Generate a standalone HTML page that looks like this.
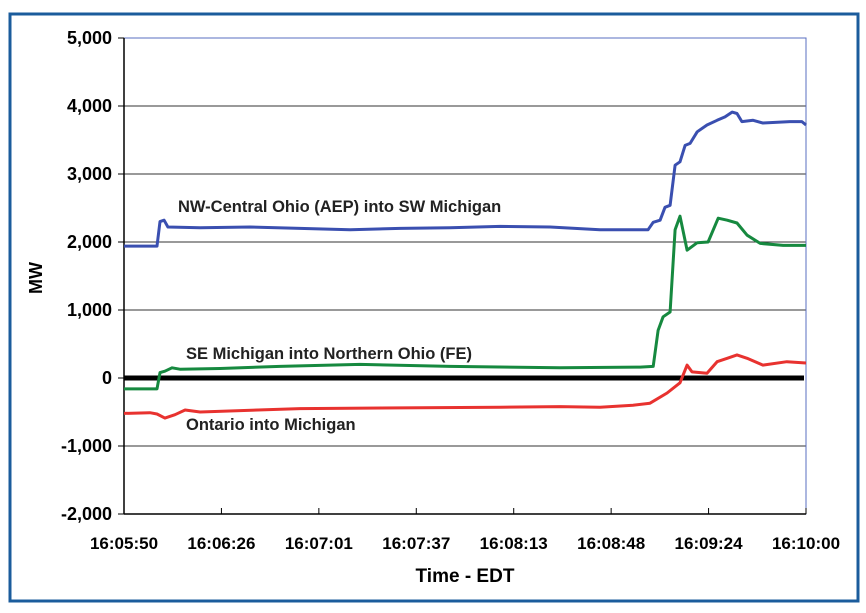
<!DOCTYPE html>
<html><head><meta charset="utf-8"><style>
body{margin:0;background:#fff;}
svg{display:block;font-family:"Liberation Sans",Arial,sans-serif;}
</style></head><body>
<svg width="866" height="613" viewBox="0 0 866 613">
<rect x="10" y="14" width="848" height="587" fill="#fff" stroke="#1b5c9c" stroke-width="3"/>
<g id="grid"></g>
<rect x="124" y="38" width="682" height="476" fill="none" stroke="#5a6fc0" stroke-width="1"/>
<g id="axes"></g>
<g id="series"></g>
<text x="42" y="278" transform="rotate(-90 42 278)" text-anchor="middle" font-weight="bold" font-size="18">MW</text>
<text x="465" y="582" text-anchor="middle" font-weight="bold" font-size="19">Time - EDT</text>
<text x="178" y="212" font-size="16.5" font-weight="bold" fill="#222">NW-Central Ohio (AEP) into SW Michigan</text>
<text x="186" y="359" font-size="16.5" font-weight="bold" fill="#222">SE Michigan into Northern Ohio (FE)</text>
<text x="186" y="430" font-size="16.5" font-weight="bold" fill="#222">Ontario into Michigan</text>
</svg>
<script>
const yTicks=[-2000,-1000,0,1000,2000,3000,4000,5000];
const yTickLabels=["-2,000","-1,000","0","1,000","2,000","3,000","4,000","5,000"];
const xTickLabels=["16:05:50","16:06:26","16:07:01","16:07:37","16:08:13","16:08:48","16:09:24","16:10:00"];
const aepT=[0,12.1,13.2,14.7,16.1,27.9,46.2,64.5,82.9,101.2,119.5,137.9,156.2,174.5,192.1,194.0,196.5,198.3,200.2,202.0,203.8,205.7,207.5,210.1,213.7,217.4,220.3,222.9,224.7,226.5,230.6,234.2,244.1,248.5,250];
const aepV=[1940,1940,2300,2320,2220,2210,2220,2200,2180,2200,2210,2230,2220,2180,2180,2290,2320,2510,2540,3130,3180,3420,3450,3620,3720,3790,3840,3910,3890,3770,3790,3750,3770,3770,3720];
const feT=[0,12.1,13.2,15.0,17.6,20.5,35.2,57.2,86.5,119.5,159.8,189.2,194.0,195.8,197.6,200.2,202.0,203.8,206.4,210.1,214.1,217.8,221.1,224.7,228.4,233.2,241.6,250];
const feV=[-160,-160,80,100,150,130,140,170,200,170,150,160,170,700,900,970,2180,2380,1880,1990,2000,2350,2320,2280,2100,1980,1950,1950];
const onT=[0,9.5,12.1,15.0,18.7,22.4,27.9,64.5,101.2,137.9,159.8,174.5,186.6,192.8,199.1,203.8,206.4,208.2,213.7,217.4,221.1,224.7,228.4,234.2,243.0,250];
const onV=[-520,-510,-530,-590,-540,-470,-500,-450,-440,-430,-420,-430,-400,-370,-220,-70,190,90,70,240,290,340,290,190,240,220];
const X0=124,X1=806,Y0=514,Y1=38,TMAX=250,VMIN=-2000,VMAX=5000;
const xs=t=>X0+(X1-X0)*t/TMAX;
const ys=v=>Y0-(Y0-Y1)*(v-VMIN)/(VMAX-VMIN);
const NS="http://www.w3.org/2000/svg";
function mk(tag,attrs,parent){const e=document.createElementNS(NS,tag);for(const k in attrs)e.setAttribute(k,attrs[k]);parent.appendChild(e);return e;}
const grid=document.getElementById('grid'),axes=document.getElementById('axes'),ser=document.getElementById('series');
yTicks.forEach((v,i)=>{
  const y=ys(v);
  if(v!==0&&v!==VMIN&&v!==VMAX){const g=mk('line',{x1:X0,x2:X1,y1:y,y2:y,stroke:'#333','stroke-width':1},grid);
  
  }
  const tk=mk('line',{x1:X0-6,x2:X0,y1:y,y2:y,stroke:'#000'},axes);
  
  
  const t=mk('text',{x:X0-12,y:y+6,'text-anchor':'end','font-size':18,'font-weight':'bold'},axes);
  t.textContent=yTickLabels[i];
  
  
});
const ya=mk('line',{x1:X0,x2:X0,y1:Y1,y2:Y0,stroke:'#000','stroke-width':1.5},axes);


const xa=mk('line',{x1:X0,x2:X1,y1:Y0,y2:Y0,stroke:'#000','stroke-width':1.5},axes);


xTickLabels.forEach((s,i)=>{
  const x=X0+(X1-X0)*i/(xTickLabels.length-1);
  const tk=mk('line',{x1:x,x2:x,y1:Y0-6,y2:Y0,stroke:'#000'},axes);
  
  
  const t=mk('text',{x:x,y:Y0+35,'text-anchor':'middle','font-size':17,'font-weight':'bold'},axes);
  t.textContent=s;
  
  
});
const zl=mk('line',{x1:X0,x2:X1-2,y1:ys(0),y2:ys(0),stroke:'#000','stroke-width':5},axes);


function line(T,V,color,name){
  const d=T.map((t,i)=>(i?'L':'M')+xs(t).toFixed(1)+','+ys(V[i]).toFixed(1)).join(' ');
  const p=mk('path',{d:d,fill:'none',stroke:color,'stroke-width':3,'stroke-linejoin':'round'},ser);
  
  
}
line(onT,onV,'#e8322f','ontario-line');
line(feT,feV,'#16893f','fe-line');
line(aepT,aepV,'#3a4fb0','aep-line');
</script>
</body></html>
